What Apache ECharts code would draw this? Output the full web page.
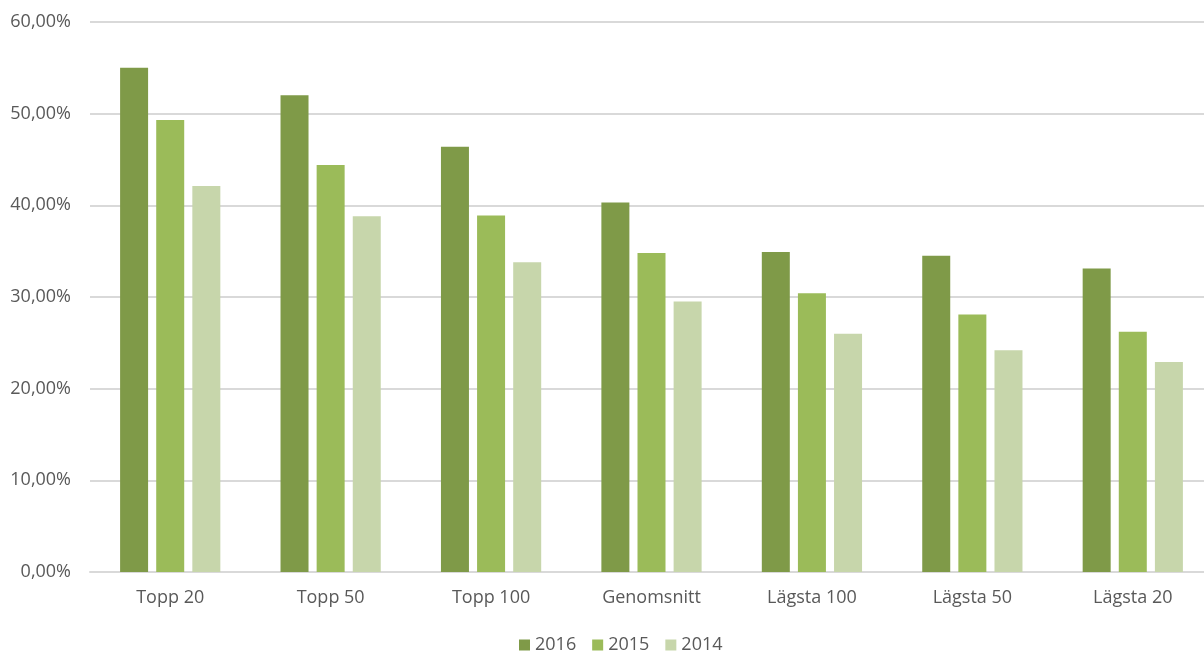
<!DOCTYPE html>
<html>
<head>
<meta charset="utf-8">
<script src="https://cdn.jsdelivr.net/npm/echarts@6/dist/echarts.min.js"></script>
<style>
  html, body { margin: 0; padding: 0; background: #fff; }
  #main { width: 1204px; height: 651px; }
</style>
</head>
<body>
<div id="main"></div>
<script>
const categories = ['Topp 20', 'Topp 50', 'Topp 100', 'Genomsnitt', 'Lägsta 100', 'Lägsta 50', 'Lägsta 20'];
const values2016 = [55.0, 52.0, 46.4, 40.3, 34.9, 34.5, 33.1];
const values2015 = [49.3, 44.4, 38.9, 34.8, 30.4, 28.1, 26.2];
const values2014 = [42.1, 38.8, 33.8, 29.5, 26.0, 24.2, 22.9];

const chart = echarts.init(document.getElementById('main'));
const font = '"Open Sans", "DejaVu Sans", sans-serif';

const option = {
    animation: false,
    textStyle: {fontFamily: font},
    // plot area runs past the right edge of the picture, like the original
    grid: {
        left: 90,
        width: 1123,
        top: 22,
        height: 550,
        outerBoundsMode: 'none'
    },
    legend: {
        top: 636,
        left: 519,
        padding: 0,
        itemWidth: 11,
        itemHeight: 11,
        itemGap: 16,
        icon: 'rect',
        textStyle: {color: '#595959', fontSize: 18, fontFamily: font},
        data: ['2016', '2015', '2014']
    },
    xAxis: {
        type: 'category',
        data: categories,
        axisLine: {lineStyle: {color: '#d9d9d9', width: 2}},
        axisTick: {show: false},
        axisLabel: {color: '#595959', fontSize: 18, margin: 17, fontFamily: font}
    },
    yAxis: {
        type: 'value',
        min: 0,
        max: 60,
        interval: 10,
        axisLine: {show: false},
        axisTick: {show: false},
        axisLabel: {
            color: '#595959',
            fontSize: 18,
            margin: 19,
            fontFamily: font,
            formatter: v => v.toFixed(2).replace('.', ',') + '%'
        },
        splitLine: {lineStyle: {color: '#d9d9d9', width: 2}}
    },
    series: [
        {
            name: '2016',
            type: 'bar',
            data: values2016,
            barWidth: 28,
            barGap: '29%',
            itemStyle: {color: '#7f9a48'}
        },
        {
            name: '2015',
            type: 'bar',
            data: values2015,
            barWidth: 28,
            barGap: '29%',
            itemStyle: {color: '#9bbb59'}
        },
        {
            name: '2014',
            type: 'bar',
            data: values2014,
            barWidth: 28,
            barGap: '29%',
            itemStyle: {color: '#c7d6ab'}
        }
    ]
};
chart.setOption(option);
</script>
</body>
</html>
